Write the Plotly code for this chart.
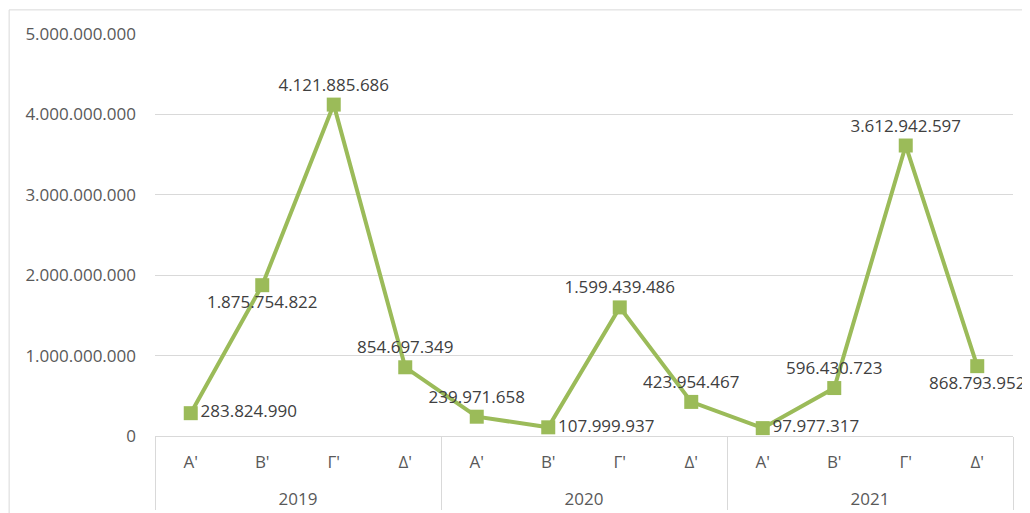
import plotly.graph_objects as go

years = ["2019"] * 4 + ["2020"] * 4 + ["2021"] * 4
quarters = ["Α'", "Β'", "Γ'", "Δ'"] * 3
values = [
    283824990, 1875754822, 4121885686, 854697349,
    239971658, 107999937, 1599439486, 423954467,
    97977317, 596430723, 3612942597, 868793952,
]
label_pos = [
    "middle right", "bottom center", "top center", "top center",
    "top center", "middle right", "top center", "top center",
    "middle right", "top center", "top center", "bottom center",
]

GREEN = "#9bbb59"
GRID = "#d9d9d9"
FONT = "Open Sans, Carlito, Calibri, sans-serif"

labels = [f"{v:,}".replace(",", ".") for v in values]
# empty first line pushes the year row further below the quarter row
year_ticks = ["<br>" + y for y in years]

fig = go.Figure()
fig.add_trace(go.Scatter(
    x=[year_ticks, quarters], y=values,
    mode="lines+markers+text",
    line=dict(color=GREEN, width=4),
    marker=dict(symbol="square", size=14, color=GREEN),
    text=labels,
    textposition=label_pos,
    textfont=dict(size=17, color="#404040", family=FONT),
    cliponaxis=False,
    showlegend=False,
))

# outer chart-area border
fig.add_shape(
    type="rect", xref="paper", yref="paper",
    x0=-0.170, x1=1.03, y0=-0.3, y1=1.06,
    line=dict(color=GRID, width=1), layer="below",
)

fig.update_layout(
    width=1030, height=513,
    margin=dict(l=147, r=25, t=26, b=85, autoexpand=False),
    paper_bgcolor="white", plot_bgcolor="white",
    separators=",.",
    font=dict(family=FONT, color="#595959", size=17),
)
fig.update_xaxes(
    type="multicategory", automargin=False,
    range=[-0.5, 11.5],
    showline=True, linecolor=GRID, linewidth=1,
    showgrid=False, ticks="",
    showdividers=True, dividercolor=GRID, dividerwidth=1,
    ticklabelstandoff=11,
    tickfont=dict(size=17, color="#595959"),
)
fig.update_yaxes(
    range=[0, 5000000000], dtick=1000000000,
    tickformat=",d", automargin=False,
    showgrid=True, gridcolor=GRID, gridwidth=1,
    zeroline=False, showline=False, ticks="",
    ticklabelstandoff=18,
    tickfont=dict(size=17, color="#595959"),
)

fig.write_html("out.html")
